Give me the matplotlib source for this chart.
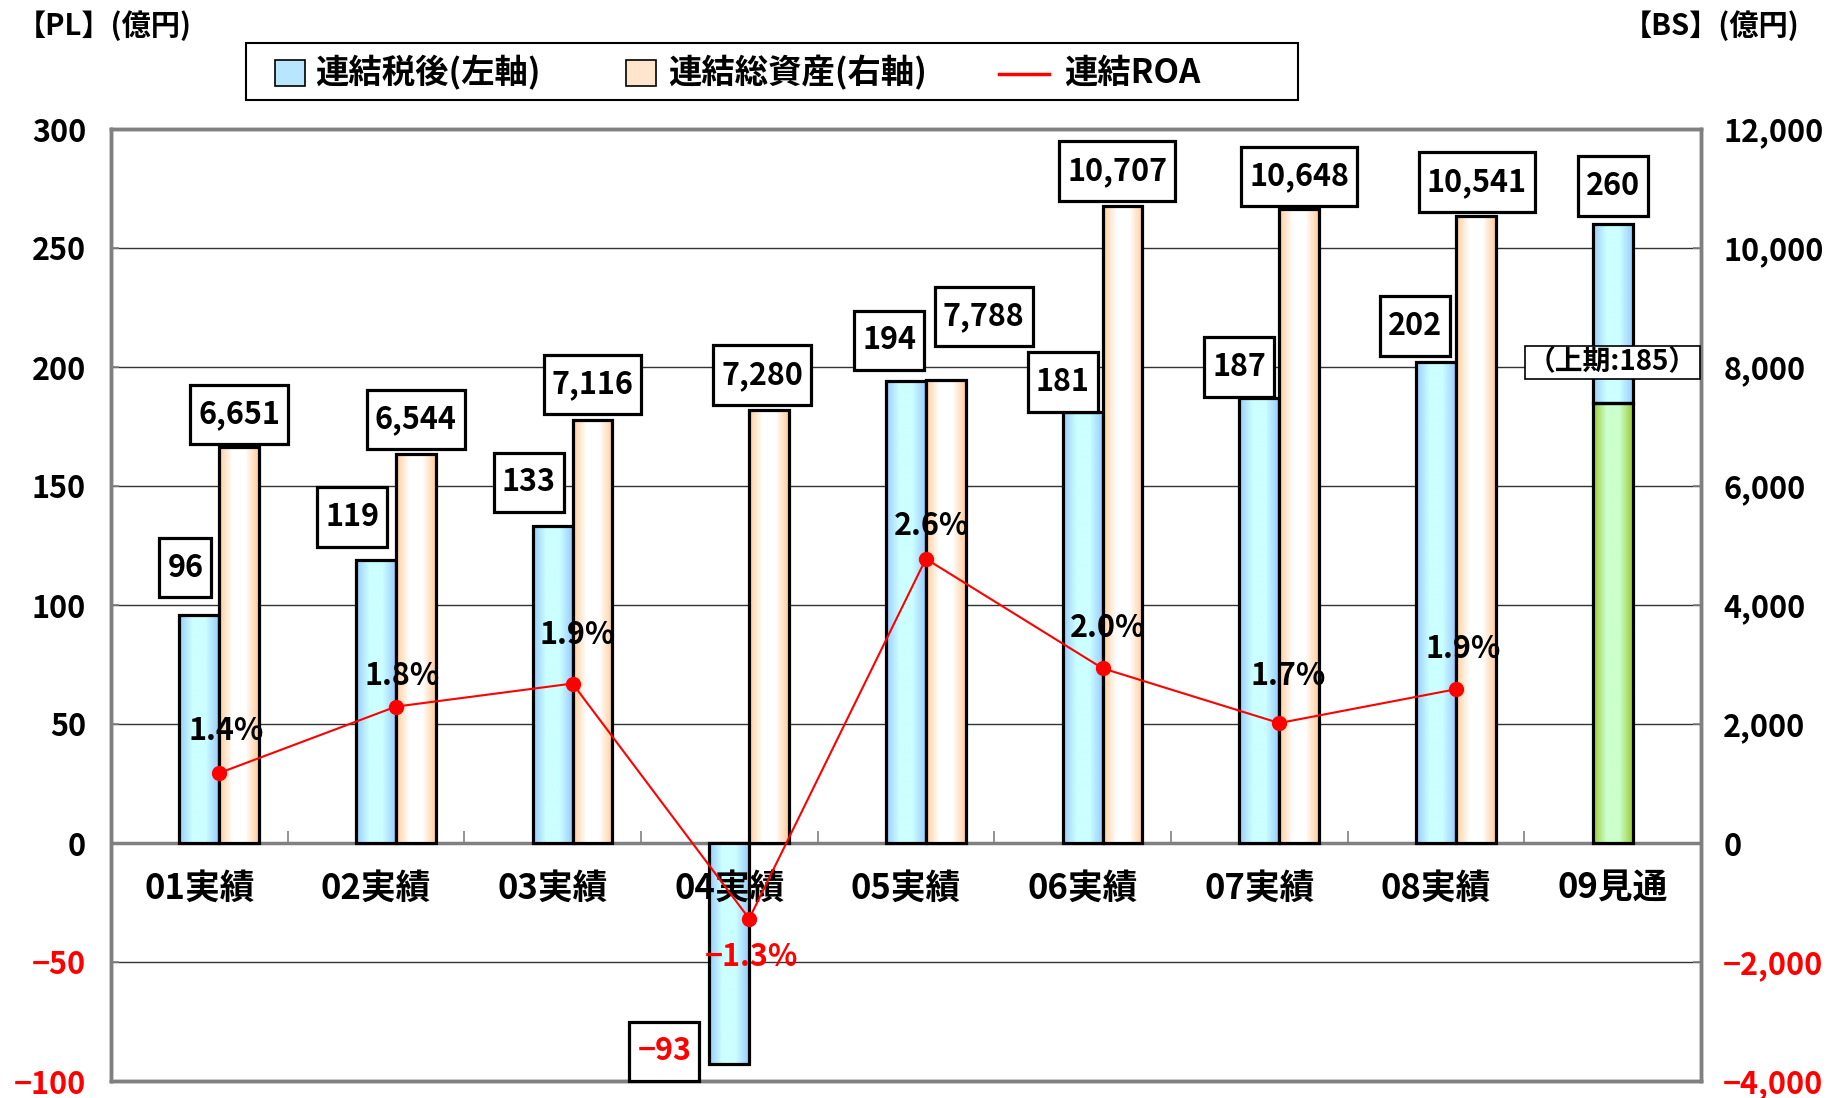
import matplotlib
matplotlib.use("Agg")
import matplotlib.pyplot as plt
import numpy as np
from matplotlib.colors import LinearSegmentedColormap
from matplotlib.patches import Rectangle
from matplotlib.lines import Line2D
from matplotlib.path import Path
import matplotlib.transforms as mtransforms

plt.rcParams['font.family'] = ['Noto Sans CJK JP', 'DejaVu Sans']
plt.rcParams['font.weight'] = 'bold'

# data
years = ['01実績', '02実績', '03実績', '04実績', '05実績', '06実績', '07実績', '08実績', '09見通']
net_income = [96, 119, 133, -93, 194, 181, 187, 202, 260]          # 連結税後 (左軸)
first_half_09 = 185                                                # 上期
total_assets = [6651, 6544, 7116, 7280, 7788, 10707, 10648, 10541]  # 連結総資産 (右軸)
roa_labels = ['1.4%', '1.8%', '1.9%', '−1.3%', '2.6%', '2.0%', '1.7%', '1.9%']
roa_height = [29.4, 57.3, 67.0, -31.8, 119.4, 73.4, 50.4, 64.6]     # 折れ線の高さ(左軸目盛で読取)

# label offsets (px)
blue_off = [(-14, 47), (-24, 43), (-24, 44), (-65, 13), (-17, 41), (-20, 30), (-20, 31), (-21, 36), (0, 38)]
peach_off = [(0, 33), (0, 34), (0, 35), (-7, 35), (38, 63), (-5, 35), (0, 33), (1, 34)]
roa_off = [(7, 42), (6, 31), (5, 49), (2, -38), (6, 33), (5, 40), (9, 47), (7, 40)]
PX = 0.72  # px -> pt

W, H = 1827, 1098
fig = plt.figure(figsize=(W / 100, H / 100), dpi=100)
ax = fig.add_axes([111 / W, 1 - 1081 / H, (1701 - 111) / W, (1081 - 129) / H])
ax2 = ax.twinx()
ax3 = ax.twinx()

ax.set_xlim(-0.5, 8.5)
ax.set_ylim(-100, 300)
ax2.set_ylim(-4000, 12000)
ax3.set_ylim(-100, 300)
for a in (ax, ax2, ax3):
    a.set_autoscale_on(False)
    a.patch.set_visible(False)
ax3.axis('off')

blue_cm = LinearSegmentedColormap.from_list('b', ['#99CCFF', '#CCFFFF', '#CCFFFF', '#99CCFF'])
peach_cm = LinearSegmentedColormap.from_list('p', ['#FFCC99', '#FFFFFF', '#FFFFFF', '#FFCC99'])
green_cm = LinearSegmentedColormap.from_list('g', ['#99CC33', '#CCFFCC', '#CCFFCC', '#99CC33'])
grad = np.linspace(0, 1, 128).reshape(1, -1)


def grad_bar(axis, xc, w, y0, y1, cmap, z=3):
    lo, hi = min(y0, y1), max(y0, y1)
    axis.imshow(grad, cmap=cmap, extent=[xc - w / 2, xc + w / 2, lo, hi],
                aspect='auto', zorder=z, interpolation='bilinear')
    axis.add_patch(Rectangle((xc - w / 2, lo), w, hi - lo, fill=False,
                             ec='black', lw=2.3, zorder=z + 0.1))


def tall_box(x0, y0, w, h, mutation_size):
    px, py = 0.26 * mutation_size, 0.45 * mutation_size
    return Path([(x0 - px, y0 - py), (x0 + w + px, y0 - py), (x0 + w + px, y0 + h + py),
                 (x0 - px, y0 + h + py), (x0 - px, y0 - py)], closed=True)


bw = 0.225
x = np.arange(len(years))

# gridlines
for v in range(-50, 300, 50):
    if v == 0:
        continue
    ax.axhline(v, color='#333333', lw=1.0, zorder=1)
ax.axhline(0, color='#808080', lw=2.5, zorder=1.5)
ax.vlines(x[:-1] + 0.5, 0, 5, color='#808080', lw=1.2, zorder=1.5)

for i, v in enumerate(net_income):
    if i == len(years) - 1:
        grad_bar(ax, x[i], bw, 0, first_half_09, green_cm)
        grad_bar(ax, x[i], bw, first_half_09, v, blue_cm)
    else:
        grad_bar(ax, x[i], bw, 0, v, blue_cm)

for i, v in enumerate(total_assets):
    grad_bar(ax2, x[i] + bw, bw, 0, v, peach_cm)

# spines
for a in (ax, ax2):
    for s in a.spines.values():
        s.set_color('#808080')
        s.set_linewidth(2.5)

ax.set_xticks([])
ax.set_yticks(range(-100, 301, 50))
ax.set_yticklabels([f'{v}'.replace('-', '−') for v in range(-100, 301, 50)])
ax.tick_params(axis='y', direction='in', length=6, width=1.2, color='#808080',
               labelsize=22, pad=18)
for t, v in zip(ax.get_yticklabels(), range(-100, 301, 50)):
    t.set_color('red' if v < 0 else 'black')

ax2.set_yticks(range(-4000, 12001, 2000))
ax2.set_yticklabels([f'{v:,}'.replace('-', '−') for v in range(-4000, 12001, 2000)])
ax2.tick_params(axis='y', direction='in', length=6, width=1.2, color='#808080',
                labelsize=22, pad=16)
for t, v in zip(ax2.get_yticklabels(), range(-4000, 12001, 2000)):
    t.set_color('red' if v < 0 else 'black')

# category labels under the zero line
trans = mtransforms.offset_copy(ax.transData, fig=fig, x=0, y=-45 * PX, units='points')
for i, name in enumerate(years):
    ax.text(x[i], 0, name, transform=trans, ha='center', va='center',
            fontsize=25, fontweight='bold', zorder=5)

# ROA line
xr = x[:len(roa_height)] + bw / 2
ax3.plot(xr, roa_height, color='red', lw=1.5, marker='o', ms=10, zorder=10)
for i, lab in enumerate(roa_labels):
    dx, dy = roa_off[i]
    ax3.annotate(lab, (xr[i], roa_height[i]), xytext=(dx * PX, dy * PX),
                 textcoords='offset points', ha='center', va='center', fontsize=22,
                 fontweight='bold', color='red' if lab.startswith('−') else 'black', zorder=11)

box = dict(boxstyle=tall_box, fc='white', ec='black', lw=2.3)
for i, v in enumerate(net_income):
    dx, dy = blue_off[i]
    ax3.annotate(f'{v}'.replace('-', '−'), (x[i], v), xytext=(dx * PX, dy * PX),
                 textcoords='offset points', ha='center', va='center', fontsize=22,
                 fontweight='bold', color='red' if v < 0 else 'black', bbox=box,
                 zorder=12, annotation_clip=False)
for i, v in enumerate(total_assets):
    dx, dy = peach_off[i]
    ax3.annotate(f'{v:,}', (x[i] + bw, v / 40), xytext=(dx * PX, dy * PX),
                 textcoords='offset points', ha='center', va='center', fontsize=22,
                 fontweight='bold', bbox=box, zorder=12, annotation_clip=False)

ax3.annotate(f'（上期:{first_half_09}）', (x[-1], first_half_09), xytext=(0, 40 * PX),
             textcoords='offset points', ha='center', va='center', fontsize=20,
             fontweight='bold', zorder=12,
             bbox=dict(boxstyle='square,pad=0.1', fc='white', ec='black', lw=1.2))

# headers
fig.text(17 / W, 1 - 26 / H, '【PL】(億円)', ha='left', va='center', fontsize=21, fontweight='bold')
fig.text(1800 / W, 1 - 26 / H, '【BS】(億円)', ha='right', va='center', fontsize=21, fontweight='bold')

# legend (manual)
fig.patches.append(Rectangle((246 / W, 1 - 100 / H), (1298 - 246) / W, 57 / H, transform=fig.transFigure,
                             fill=False, ec='black', lw=1.5))
fig.patches.append(Rectangle((275 / W, 1 - 86 / H), 30 / W, 26 / H, transform=fig.transFigure,
                             fc='#B8E6FF', ec='black', lw=1.2))
fig.text(315 / W, 1 - 73 / H, '連結税後(左軸)', ha='left', va='center', fontsize=24, fontweight='bold')
fig.patches.append(Rectangle((626 / W, 1 - 86 / H), 30 / W, 26 / H, transform=fig.transFigure,
                             fc='#FFE5CC', ec='black', lw=1.2))
fig.text(668 / W, 1 - 73 / H, '連結総資産(右軸)', ha='left', va='center', fontsize=24, fontweight='bold')
fig.lines.append(Line2D([999 / W, 1049 / W], [1 - 74 / H, 1 - 74 / H], transform=fig.transFigure,
                        color='red', lw=2.5))
fig.text(1064 / W, 1 - 73 / H, '連結ROA', ha='left', va='center', fontsize=24, fontweight='bold')

fig.savefig('out.png', dpi=100)
